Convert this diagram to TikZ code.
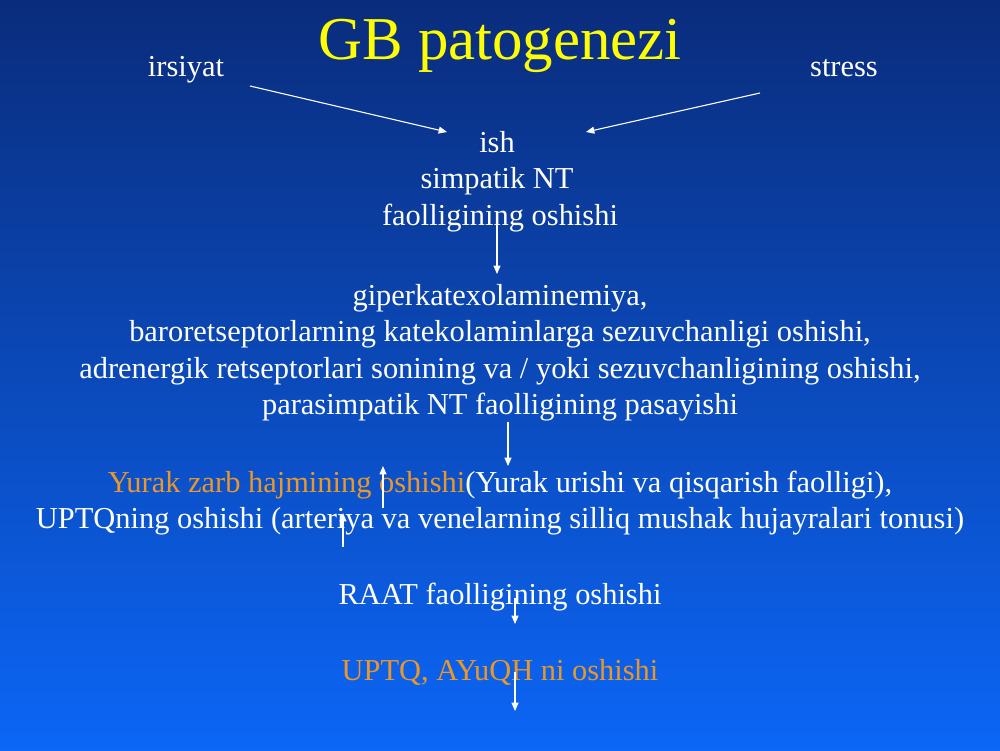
\documentclass[tikz,border=0pt]{standalone}
\usepackage{fontspec}
\setmainfont{Liberation Serif}
\usetikzlibrary{arrows.meta}

\definecolor{bgtop}{RGB}{10,44,124}
\definecolor{bgmid}{RGB}{16,76,200}
\definecolor{bgbot}{RGB}{12,102,246}
\definecolor{titleyellow}{RGB}{255,255,0}
\definecolor{slideorange}{RGB}{232,152,42}

\tikzset{
  txt/.style={text=white, inner sep=0pt, anchor=base, font=\fontsize{22}{26}\selectfont},
  orange/.style={txt, text=slideorange},
  arr/.style={draw=white, line width=0.8pt, -{Triangle[length=6pt,width=5pt]}}
}

\begin{document}
\begin{tikzpicture}[x=0.0254cm, y=-0.0254cm]
    % Background
    \shade[top color=bgtop, middle color=bgmid, bottom color=bgbot] (0,0) rectangle (1000,750);
    \useasboundingbox (0,0) rectangle (1000,750);

    % Title and causes
    \node[txt, text=titleyellow, font=\fontsize{44}{50}\selectfont] (title) at (500,59) {GB patogenezi};
    \node[txt] (irsiyat) at (186,76) {irsiyat};
    \node[txt] (stress) at (844,76) {stress};

    % Sympathetic activity
    \node[txt] (ish) at (497,152) {ish};
    \node[txt] (simpatik) at (497,188) {simpatik NT};
    \node[txt] (faollik) at (500,225) {faolligining oshishi};

    % Catecholamines block
    \node[txt] (giper) at (500,305) {giperkatexolaminemiya,};
    \node[txt] (baro) at (500,341) {baroretseptorlarning katekolaminlarga sezuvchanligi oshishi,};
    \node[txt] (adren) at (500,378) {adrenergik retseptorlari sonining va / yoki sezuvchanligining oshishi,};
    \node[txt] (parasim) at (500,414) {parasimpatik NT faolligining pasayishi};

    % Heart and vessels
    \node[txt] (yurak) at (500,492) {\textcolor{slideorange}{Yurak zarb hajmining oshishi}(Yurak urishi va qisqarish faolligi),};
    \node[txt] (uptq) at (500,528) {UPTQning oshishi (arteriya va venelarning silliq mushak hujayralari tonusi)};

    % RAAT and result
    \node[txt] (raat) at (500,604) {RAAT faolligining oshishi};
    \node[orange] (bosim) at (500,680) {UPTQ, AYuQH ni oshishi};

    % Arrow ends
    \coordinate (a1) at (250,86);   \coordinate (b1) at (447,132);
    \coordinate (a2) at (760,93);   \coordinate (b2) at (586,132);
    \coordinate (a3) at (497,222);  \coordinate (b3) at (497,274);
    \coordinate (a4) at (508,422);  \coordinate (b4) at (508,466);
    \coordinate (a5) at (383,508);  \coordinate (b5) at (383,466);
    \coordinate (a6) at (343,547);  \coordinate (b6) at (343,513);
    \coordinate (a7) at (515,598);  \coordinate (b7) at (515,624);
    \coordinate (a8) at (515,672);  \coordinate (b8) at (515,711);

    % Arrows
    \draw[arr] (a1) -- (b1);
    \draw[arr] (a2) -- (b2);
    \draw[arr] (a3) -- (b3);
    \draw[arr] (a4) -- (b4);
    \draw[arr] (a5) -- (b5);
    \draw[arr] (a6) -- (b6);
    \draw[arr] (a7) -- (b7);
    \draw[arr] (a8) -- (b8);
\end{tikzpicture}
\end{document}
